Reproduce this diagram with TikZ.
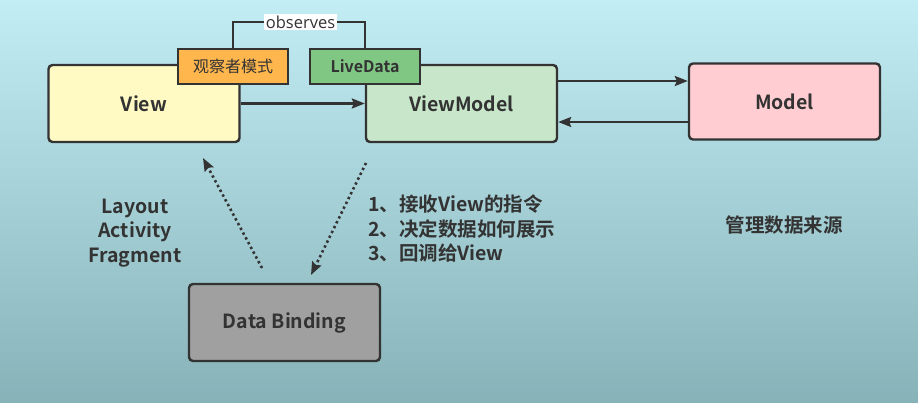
\documentclass[tikz,border=0pt]{standalone}
\usepackage{fontspec}
\setmainfont{Noto Sans CJK SC}[BoldFont={* Bold}]
\newfontfamily\obsfont{Open Sans}
\usetikzlibrary{arrows.meta,positioning,calc}
\definecolor{txt}{HTML}{333333}
\definecolor{bgtop}{HTML}{C3EDF4}
\definecolor{bgbot}{HTML}{87B2B8}
\definecolor{cview}{HTML}{FFF9C4}
\definecolor{cvm}{HTML}{C8E6C9}
\definecolor{cmodel}{HTML}{FFCDD2}
\definecolor{cobs}{HTML}{FFB74D}
\definecolor{clive}{HTML}{81C784}
\definecolor{cdb}{HTML}{A0A0A0}
\tikzset{
  box/.style={draw=txt, line width=2.4pt, rounded corners=4pt, minimum width=191pt, minimum height=77pt, inner sep=0pt, font=\bfseries\fontsize{19.5}{22}\selectfont, text=txt},
  tag/.style={draw=txt, line width=2.4pt, minimum width=110pt, minimum height=35pt, inner sep=0pt, font=\fontsize{16}{18}\selectfont, text=txt},
  conn/.style={draw=txt, line width=2.2pt, -{Stealth[length=13pt,width=10pt,inset=2pt]}},
  dots/.style={draw=txt, line width=2.6pt, dash pattern=on 2.4pt off 3pt, -{Stealth[length=13pt,width=10pt,inset=2pt]}},
  lbl/.style={text=txt, font=\bfseries\fontsize{19.5}{24.5}\selectfont, inner sep=0pt}
}
\begin{document}
\begin{tikzpicture}[x=1pt,y=-1pt]
\useasboundingbox (0,0) rectangle (918,403);
\shade[top color=bgtop, bottom color=bgbot] (0,0) rectangle (918,403);

\node[box, fill=cview] (view) at (144,103.5) {View};
\node[box, fill=cvm] (vm) at (461.5,103.5) {ViewModel};
\node[box, fill=cmodel, minimum height=76pt] (model) at (784.5,101.5) {Model};
\node[box, fill=cdb] (db) at (284.5,322.5) {Data Binding};

\coordinate (obsL) at (233,22);
\coordinate (obsR) at (365,22);
\draw[draw=txt, line width=2.4pt] (233,49) -- (obsL) -- (obsR) -- (365,49);
\node[fill=white, inner sep=1.5pt, text=txt, font=\obsfont\fontsize{16.5}{18}\selectfont] (obslbl) at (300.5,22) {observes};

\node[tag, fill=cobs] (obs) at (233,66.5) {观察者模式};
\node[tag, fill=clive, font=\bfseries\fontsize{16}{18}\selectfont] (live) at (365,66.5) {LiveData};

\draw[conn] (view.east) -- (vm.west);
\draw[conn] (vm.east |- 0,81) -- (model.west |- 0,81);
\draw[conn] (model.west |- 0,122) -- (vm.east |- 0,122);

\coordinate (d1s) at (262,268);
\coordinate (d1e) at (203,158);
\coordinate (d2s) at (366,163);
\coordinate (d2e) at (311,275);
\draw[dots] (d1s) -- (d1e);
\draw[dots] (d2s) -- (d2e);

\node[lbl, align=center] (lay) at (135,233) {Layout\\Activity\\Fragment};
\node[lbl, align=left, anchor=west] (list) at (368,229) {1、接收View的指令\\2、决定数据如何展示\\3、回调给View};
\node[lbl] (src) at (784,225) {管理数据来源};
\end{tikzpicture}
\end{document}
